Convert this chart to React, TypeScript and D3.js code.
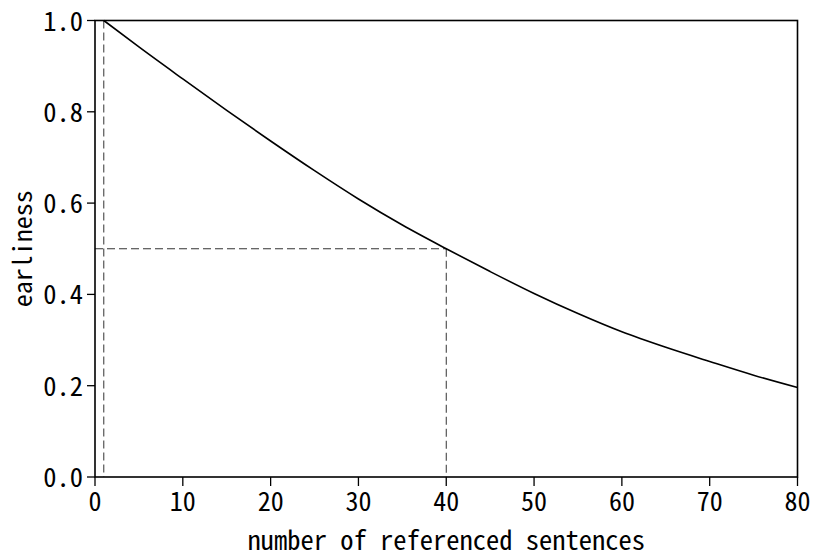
import React from 'react';
import * as d3 from 'd3';

// earliness
const sentences = [1, 5, 10, 15, 20, 25, 30, 35, 40, 45, 50, 55, 60, 65, 70, 75, 80];
const earliness = [1.0, 0.942, 0.872, 0.803, 0.736, 0.671, 0.609, 0.552, 0.5, 0.45, 0.402, 0.358, 0.318, 0.284, 0.253, 0.223, 0.196];
const xTicks = [0, 10, 20, 30, 40, 50, 60, 70, 80];
const yTicks = [0, 0.2, 0.4, 0.6, 0.8, 1.0];
// reference markers: first sentence, and the half-earliness point
const firstSentence = 1;
const halfPoint = { x: 40, y: 0.5 };

const width = 814, height = 559;
const margin = { top: 20.5, right: 16.5, bottom: 82, left: 95 };
const font = '"Noto Sans Mono CJK JP", "Noto Sans CJK JP", monospace';

const App = () => {
    const w = width - margin.left - margin.right,
        h = height - margin.top - margin.bottom;

    const xScale = d3.scaleLinear().domain([0, 80]).range([0, w]);
    const yScale = d3.scaleLinear().domain([0, 1]).range([h, 0]);

    const line = d3.line<number>()
        .x((d, i) => xScale(sentences[i]))
        .y(d => yScale(d))
        .curve(d3.curveMonotoneX);

    const fmt = d3.format('.1f');

    return (
        <svg width={width} height={height} style={{ position: 'absolute', left: 0, top: 0, background: '#fff' }}>
            <g transform={`translate(${margin.left}, ${margin.top})`}>
                {/* dashed guides */}
                <g stroke='#333' strokeWidth={1} strokeDasharray='8 4' fill='none'>
                    <line x1={xScale(firstSentence)} x2={xScale(firstSentence)} y1={yScale(1)} y2={yScale(0)} />
                    <line x1={xScale(0)} x2={xScale(halfPoint.x)} y1={yScale(halfPoint.y)} y2={yScale(halfPoint.y)} />
                    <line x1={xScale(halfPoint.x)} x2={xScale(halfPoint.x)} y1={yScale(halfPoint.y)} y2={yScale(0)} />
                </g>
                <path d={line(earliness) || ''} fill='none' stroke='#000' strokeWidth={1.6} />
                {/* frame */}
                <rect x={0} y={0} width={w} height={h} fill='none' stroke='#000' strokeWidth={1.6} />
                {xTicks.map(t => (
                    <g key={t} transform={`translate(${xScale(t)}, ${h})`}>
                        <line y1={0} y2={9} stroke='#000' strokeWidth={1.3} />
                        <text y={34} textAnchor='middle' fontFamily={font} fontSize={26}>{t}</text>
                    </g>
                ))}
                {yTicks.map(t => (
                    <g key={t} transform={`translate(0, ${yScale(t)})`}>
                        <line x1={-8} x2={0} stroke='#000' strokeWidth={1.3} />
                        <text x={-12} y={10} textAnchor='end' fontFamily={font} fontSize={26.5}>{fmt(t)}</text>
                    </g>
                ))}
            </g>
            <text x={margin.left + w / 2} y={550} textAnchor='middle' fontFamily={font} fontSize={26.5}>number of referenced sentences</text>
            <text transform={`translate(32, ${margin.top + h / 2}) rotate(-90)`} textAnchor='middle' fontFamily={font} fontSize={26}>earliness</text>
        </svg>
    );
};

export default App;
